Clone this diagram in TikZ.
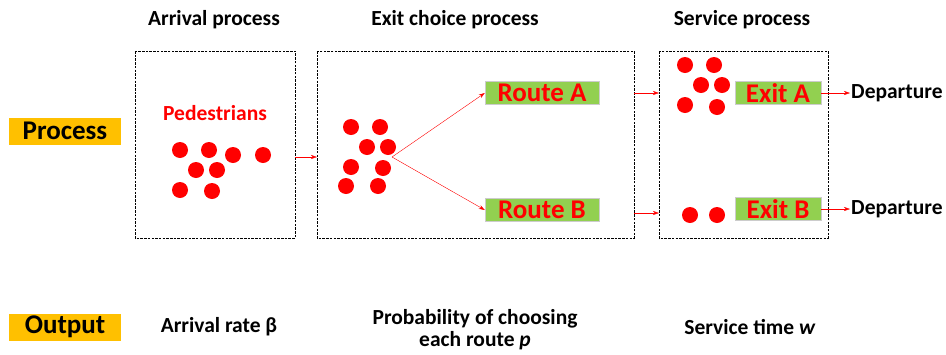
\documentclass[tikz,border=0pt]{standalone}
\usepackage{fontspec}
\setmainfont{Carlito}
\usetikzlibrary{arrows.meta}
\definecolor{labelorange}{HTML}{FFC000}
\definecolor{exitgreen}{HTML}{92D050}
\tikzset{
  stagebox/.style={draw, dash pattern=on 2.5pt off 1.2pt, line width=0.8pt},
  ped/.style={circle, fill=red, inner sep=0pt, minimum size=16pt},
  greenbox/.style={fill=exitgreen, draw=gray!40, minimum width=114pt, minimum height=23pt, inner sep=0pt, text=red, font=\fontsize{27}{30}\selectfont\bfseries},
  tagbox/.style={fill=labelorange, minimum width=112pt, minimum height=27pt, inner sep=0pt, font=\fontsize{27}{30}\selectfont\bfseries},
  head/.style={font=\fontsize{21.5}{22}\selectfont\bfseries},
  flow/.style={red, -{Stealth[length=6pt,width=4pt]}}
}
\begin{document}
\begin{tikzpicture}[x=1pt, y=-1pt]
      \useasboundingbox (0,0) rectangle (946,354);

      % stage frames
      \draw[stagebox] (135,51) rectangle (295,238);
      \draw[stagebox] (317,51) rectangle (634,238);
      \draw[stagebox] (659,51) rectangle (828,238);

      \node[head] (harr) at (214,20) {Arrival process};
      \node[head] (hexit) at (455,20) {Exit choice process};
      \node[head] (hserv) at (742,20) {Service process};

      \node[tagbox] (process) at (65,131) {Process};
      \node[tagbox] (output) at (65,327) {Output};

      % arrival
      \node[text=red, font=\fontsize{21.5}{24}\selectfont\bfseries] (peds) at (215,113) {Pedestrians};
      \foreach \x/\y in {180/150, 209/150, 233/155, 263/155, 196/170, 217/170, 180/190, 212/191}
        \node[ped] at (\x,\y) {};

      % exit choice
      \foreach \x/\y in {351/127, 380/127, 367/147, 351/167, 383/168, 346/186, 378/186}
        \node[ped] at (\x,\y) {};
      \node[ped] (lead) at (388,147) {};
      \node[greenbox] (routea) at (542,93) {Route A};
      \node[greenbox] (routeb) at (542,210) {Route B};
      \coordinate (split) at (392,157);
      \draw[flow] (split) -- (routea.west);
      \draw[flow] (split) -- (routeb.west);

      % service
      \foreach \x/\y in {685/65, 714/65, 701/85, 722/85, 685/105, 717/107, 690/215, 717/215}
        \node[ped] at (\x,\y) {};
      \node[greenbox, minimum width=86pt] (exita) at (778,93) {Exit A};
      \node[greenbox, minimum width=86pt] (exitb) at (778,209) {Exit B};

      \coordinate (a1) at (295,157);
      \coordinate (a2) at (317,157);
      \draw[flow] (a1) -- (a2);
      \coordinate (b1) at (634,93);
      \coordinate (b2) at (659,93);
      \draw[flow] (b1) -- (b2);
      \coordinate (c1) at (634,213);
      \coordinate (c2) at (659,213);
      \draw[flow] (c1) -- (c2);

      \node[head, anchor=west, inner sep=1pt] (depa) at (850,93) {Departure};
      \node[head, anchor=west, inner sep=1pt] (depb) at (850,209) {Departure};
      \draw[flow] (exita.east) -- (depa.west);
      \draw[flow] (exitb.east) -- (depb.west);

      % outputs
      \node[head] (rate) at (219,327) {Arrival rate β};
      \node[head, align=center] (prob) at (475,330) {Probability of choosing\\each route \textit{p}};
      \node[head] (stime) at (750,327) {Service time \textit{w}};
\end{tikzpicture}
\end{document}
